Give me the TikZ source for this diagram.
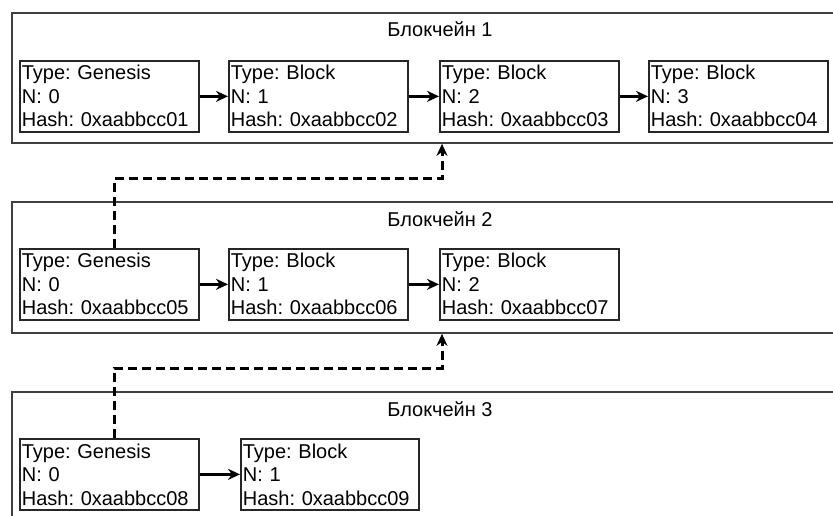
\documentclass[tikz,border=0pt]{standalone}
\usepackage{fontspec}
\setmainfont{Liberation Sans}
\usetikzlibrary{arrows.meta,calc}
\frenchspacing
\begin{document}
\begin{tikzpicture}[x=1pt,y=-1pt,
  chainbox/.style={draw=black!75, line width=1.8pt, anchor=north west, minimum width=840pt, inner sep=0pt},
  block/.style={draw=black!85, line width=1.7pt, anchor=north west, minimum width=179pt, minimum height=71pt, text width=175pt, inner xsep=2pt, inner ysep=0pt, align=left, font=\fontsize{20}{23.5}\selectfont, text=black},
  title/.style={anchor=base, font=\fontsize{20}{24}\selectfont, inner sep=0pt, text=black},
  link/.style={draw=black, line width=2.5pt, -{Stealth[length=12pt,width=11pt]}},
  dep/.style={draw=black, line width=3pt, dash pattern=on 9pt off 5pt, -{Stealth[length=12pt,width=11pt]}}]
\clip (0,0) rectangle (833,516);

% chain 1
\node[chainbox, minimum height=130pt] (c1) at (11,12) {};
\node[title] (t1) at (440,37) {Блокчейн 1};
\node[block] (a1) at (19,60) {Type: Genesis\\N: 0\\Hash: 0xaabbcc01};
\node[block] (a2) at (228,60) {Type: Block\\N: 1\\Hash: 0xaabbcc02};
\node[block] (a3) at (439,60) {Type: Block\\N: 2\\Hash: 0xaabbcc03};
\node[block] (a4) at (648,60) {Type: Block\\N: 3\\Hash: 0xaabbcc04};
\draw[link] (a1) -- (a2);
\draw[link] (a2) -- (a3);
\draw[link] (a3) -- (a4);

% chain 2
\node[chainbox, minimum height=131pt] (c2) at (11,201) {};
\node[title] (t2) at (440,226) {Блокчейн 2};
\node[block] (b1) at (19,248) {Type: Genesis\\N: 0\\Hash: 0xaabbcc05};
\node[block] (b2) at (228,248) {Type: Block\\N: 1\\Hash: 0xaabbcc06};
\node[block] (b3) at (439,248) {Type: Block\\N: 2\\Hash: 0xaabbcc07};
\draw[link] (b1) -- (b2);
\draw[link] (b2) -- (b3);

% chain 3
\node[chainbox, minimum height=140pt] (c3) at (11,391) {};
\node[title] (t3) at (440,416) {Блокчейн 3};
\node[block] (g1) at (19,438) {Type: Genesis\\N: 0\\Hash: 0xaabbcc08};
\node[block, minimum width=178pt, text width=174pt] (g2) at (240,438) {Type: Block\\N: 1\\Hash: 0xaabbcc09};
\draw[link] (g1) -- (g2);

% fork links
\coordinate (p1) at (114,179);
\coordinate (q1) at (442,179);
\coordinate (p2) at (114,368);
\coordinate (q2) at (442,368);
\draw[dep] (b1.north -| p1) -- (p1) -- (q1) -- (q1 |- c1.south);
\draw[dep] (g1.north -| p2) -- (p2) -- (q2) -- (q2 |- c2.south);
\end{tikzpicture}
\end{document}
